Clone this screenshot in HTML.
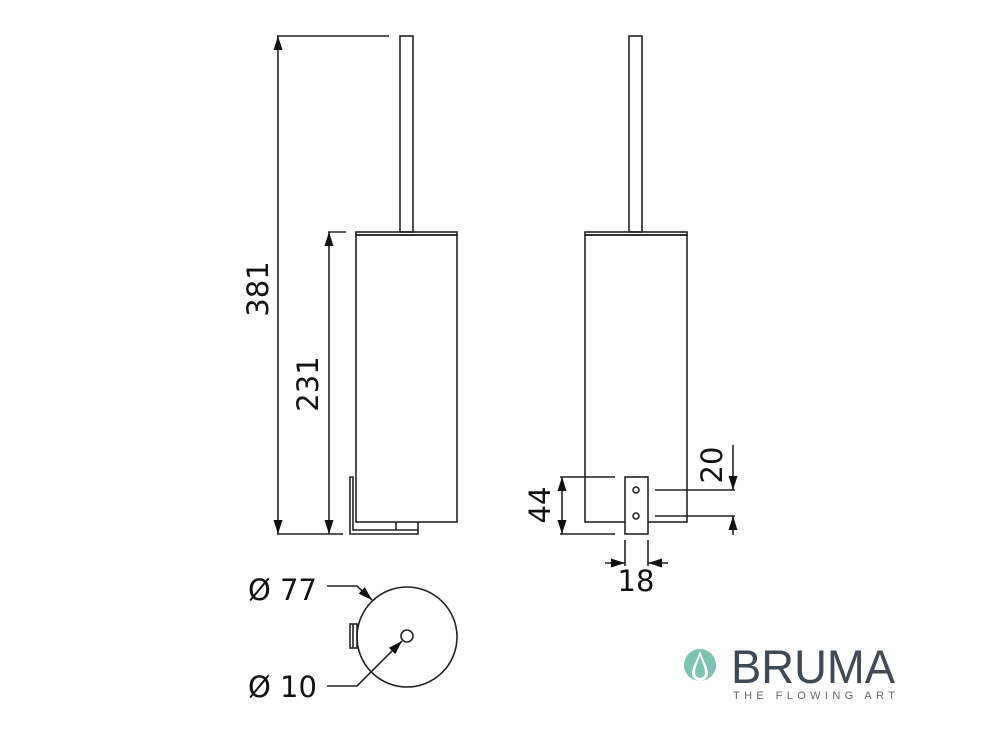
<!DOCTYPE html>
<html><head><meta charset="utf-8"><style>
body{margin:0;background:#fff}
svg{display:block}
text{font-family:"DejaVu Sans","Liberation Sans",sans-serif;fill:#111}
</style></head><body>
<svg width="984" height="740" viewBox="0 0 984 740" xmlns="http://www.w3.org/2000/svg">
<defs>
<marker id="b" viewBox="0 0 14 10" refX="14" refY="5" markerWidth="15" markerHeight="10" markerUnits="userSpaceOnUse" orient="auto-start-reverse"><path d="M0,0.5 L14,5 L0,9.5z" fill="#111"/></marker>
</defs>
<g stroke="#222" stroke-width="1.6" fill="none">
<!-- left view -->
<line x1="277" y1="36" x2="389" y2="36"/>
<line x1="278" y1="36" x2="278" y2="534" marker-start="url(#b)" marker-end="url(#b)"/>
<line x1="329" y1="232" x2="329" y2="534" marker-start="url(#b)" marker-end="url(#b)"/>
<line x1="328" y1="232" x2="346" y2="232"/>
<line x1="277" y1="534" x2="343" y2="534"/>
<rect x="400" y="36" width="13" height="196"/>
<rect x="356" y="232" width="101" height="3"/>
<rect x="356" y="235" width="101" height="287"/>
<path d="M350,477 L353,477 L353,530 L418,530 L418,534 L350,534 Z"/>
<path d="M396,522 L396,530 M418,522 L418,530"/>
<!-- top view -->
<circle cx="407" cy="637" r="50"/>
<circle cx="407" cy="636" r="6"/>
<rect x="350" y="624" width="7" height="24"/>
<line x1="353" y1="624" x2="353" y2="648"/>
<polyline points="327,586 357,586 372,600" marker-end="url(#b)"/>
<polyline points="327,686 357,686 402,641" marker-end="url(#b)"/>
<!-- right view -->
<rect x="629" y="36" width="13" height="196"/>
<rect x="585" y="232" width="102" height="3"/>
<rect x="585" y="235" width="102" height="287"/>
<rect x="625" y="477" width="23" height="57" fill="#fff"/>
<circle cx="636" cy="490" r="3"/>
<circle cx="636" cy="516" r="3"/>
<line x1="560" y1="477" x2="615" y2="477"/>
<line x1="560" y1="534" x2="615" y2="534"/>
<line x1="562" y1="477" x2="562" y2="534" marker-start="url(#b)" marker-end="url(#b)"/>
<line x1="655" y1="490" x2="735" y2="490"/>
<line x1="655" y1="516" x2="735" y2="516"/>
<line x1="733" y1="445" x2="733" y2="490" marker-end="url(#b)"/>
<line x1="733" y1="535" x2="733" y2="516" marker-end="url(#b)"/>
<line x1="625" y1="540" x2="625" y2="566"/>
<line x1="648" y1="540" x2="648" y2="566"/>
<line x1="605" y1="563" x2="625" y2="563" marker-end="url(#b)"/>
<line x1="668" y1="563" x2="648" y2="563" marker-end="url(#b)"/>
</g>
<text x="258" y="289" font-size="29" text-anchor="middle" dominant-baseline="central" transform="rotate(-90 258 289)">381</text>
<text x="308" y="384" font-size="29" text-anchor="middle" dominant-baseline="central" transform="rotate(-90 308 384)">231</text>
<text x="540" y="505" font-size="29" text-anchor="middle" dominant-baseline="central" transform="rotate(-90 540 505)">44</text>
<text x="712" y="465" font-size="29" text-anchor="middle" dominant-baseline="central" transform="rotate(-90 712 465)">20</text>
<text x="636" y="591" font-size="29" text-anchor="middle">18</text>
<text x="248" y="600" font-size="29">Ø 77</text>
<text x="248" y="697" font-size="29">Ø 10</text>
<!-- logo -->
<circle cx="700" cy="665" r="16" fill="#7cc3b3"/>
<path d="M700,651 C696,662 692,668 692,673 A8,8 0 0 0 708,673 C708,668 704,662 700,651Z" fill="#fff"/>
<path d="M700,656 C697,664 695,669 695,673 A5,5 0 0 0 705,673 C705,669 703,664 700,656Z" fill="#7cc3b3"/>
<text x="731" y="683" font-size="47" style="font-family:'Liberation Sans',sans-serif;fill:#3e4b56" textLength="164" lengthAdjust="spacingAndGlyphs">BRUMA</text>
<text x="733" y="699" font-size="11" style="font-family:'Liberation Sans',sans-serif;fill:#666" textLength="162" lengthAdjust="spacing">THE FLOWING ART</text>
</svg>
</body></html>
